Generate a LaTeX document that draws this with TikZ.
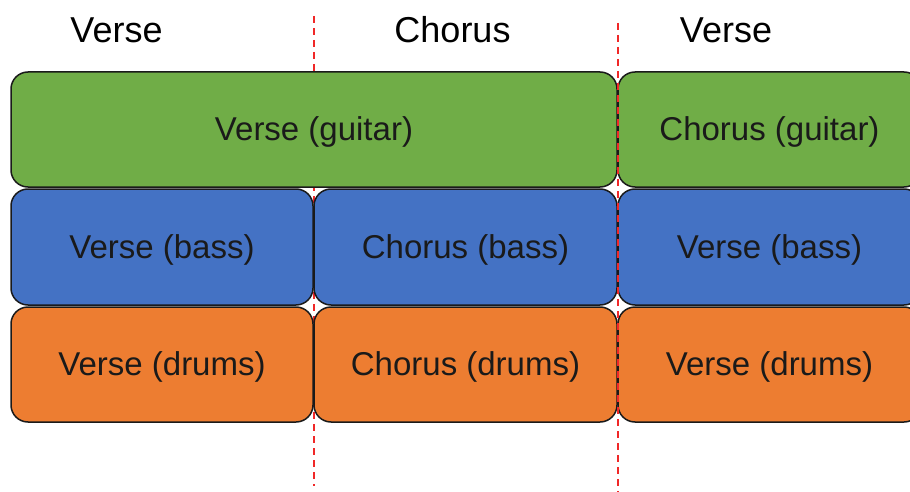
\documentclass[tikz,border=0pt]{standalone}
\usepackage{fontspec}
\setmainfont{Liberation Sans}
\definecolor{guitarfill}{HTML}{70AD47}
\definecolor{bassfill}{HTML}{4472C4}
\definecolor{drumfill}{HTML}{ED7D31}
\definecolor{inkdark}{HTML}{1A1A1A}
\definecolor{seamred}{RGB}{240,40,40}
\tikzset{
  part/.style={draw=inkdark, line width=1.5pt, rounded corners=17pt,
    inner sep=0pt, outer sep=0pt, text=inkdark,
    font=\fontsize{33}{39}\selectfont, text height=22pt, text depth=0pt},
  guitar/.style={part, fill=guitarfill},
  bass/.style={part, fill=bassfill},
  drums/.style={part, fill=drumfill},
  section/.style={anchor=base, inner sep=0pt, text=black,
    font=\fontsize{36}{42}\selectfont}
}
\begin{document}
\begin{tikzpicture}[x=1pt,y=-1pt]
\useasboundingbox (0,0) rectangle (910,492);

% section headings
\node[section] (h1) at (116.5,42.7) {Verse};
\node[section] (h2) at (452.5,42.7) {Chorus};
\node[section] (h3) at (726,42.7) {Verse};

% boundary between first verse and chorus (behind the parts)
\coordinate (s1top) at (313.5,16);
\coordinate (s1bot) at (313.5,486);
\draw[draw=seamred, line width=2pt, dash pattern=on 7pt off 5pt] (s1top) -- (s1bot);

% guitar row
\node[guitar, minimum width=606pt, minimum height=115pt] (g1) at (314,129.5) {Verse (guitar)};
\node[guitar, minimum width=303pt, minimum height=115pt] (g2) at (769.5,129.5) {Chorus (guitar)};

% bass row
\node[bass, minimum width=302pt, minimum height=116pt] (b1) at (162,247) {Verse (bass)};
\node[bass, minimum width=303pt, minimum height=116pt] (b2) at (465.5,247) {Chorus (bass)};
\node[bass, minimum width=303pt, minimum height=116pt] (b3) at (769.5,247) {Verse (bass)};

% drums row
\node[drums, minimum width=302pt, minimum height=115pt] (d1) at (162,364.5) {Verse (drums)};
\node[drums, minimum width=303pt, minimum height=115pt] (d2) at (465.5,364.5) {Chorus (drums)};
\node[drums, minimum width=303pt, minimum height=115pt] (d3) at (769.5,364.5) {Verse (drums)};

% boundary between chorus and second verse (over the parts)
\coordinate (s2top) at (617.5,23);
\coordinate (s2bot) at (617.5,492);
\draw[draw=seamred, line width=2pt, dash pattern=on 7pt off 5pt] (s2top) -- (s2bot);
\end{tikzpicture}
\end{document}
